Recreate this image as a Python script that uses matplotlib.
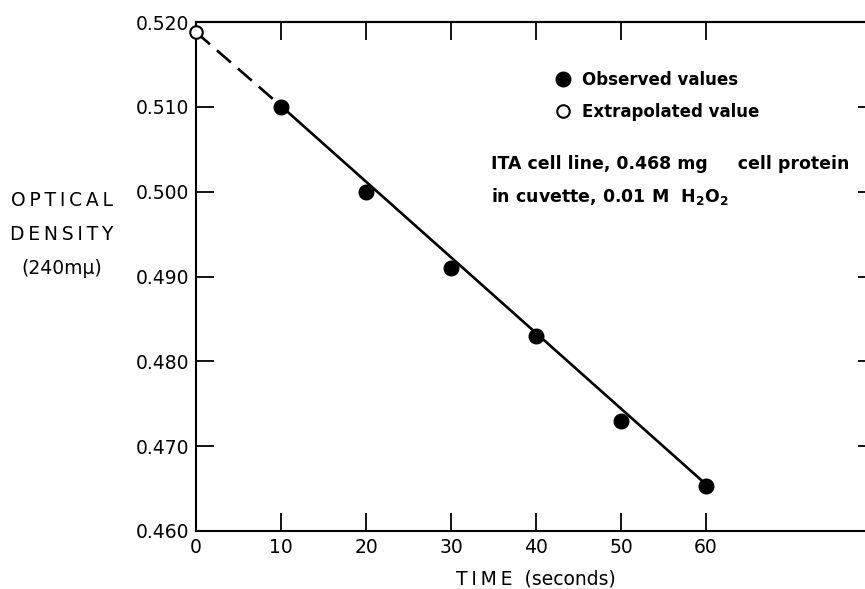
import matplotlib
matplotlib.use("Agg")
from matplotlib import pyplot as plt

# valores
tempo_obs = [10, 20, 30, 40, 50, 60]
densidade_obs = [0.510, 0.500, 0.491, 0.483, 0.473, 0.4653]
tempo_extrap = [0]
densidade_extrap = [0.5188]

# reta ajustada e trecho extrapolado
reta_x = [10, 60]
reta_y = [0.5101, 0.4655]
extrap_x = [0, 10]
extrap_y = [0.5188, 0.5101]

xticks = [0, 10, 20, 30, 40, 50, 60]
yticks = [0.460, 0.470, 0.480, 0.490, 0.500, 0.510, 0.520]
ytick_labels = ['0.460', '0.470', '0.480', '0.490', '0.500', '0.510', '0.520']

plt.rcParams['font.family'] = ['DejaVu Sans']

W, H = 865, 589
fig = plt.figure(figsize=(W / 100, H / 100), dpi=100)
ax = fig.add_axes([196 / W, 1 - 531 / H, (876 - 196) / W, (531 - 22) / H])

ax.plot(reta_x, reta_y, color='black', lw=1.9, zorder=2)
ax.plot(extrap_x, extrap_y, color='black', lw=1.9, dashes=(7, 3.5), zorder=2)
ax.plot(tempo_obs, densidade_obs, 'o', color='black', ms=10.5, zorder=3,
        label='Observed values')
ax.plot(tempo_extrap, densidade_extrap, 'o', mfc='white', mec='black', mew=1.5,
        ms=9, zorder=4, clip_on=False, label='Extrapolated value')

ax.set_xlim(0, 80)
ax.set_ylim(0.460, 0.520)

for s in ['left', 'bottom', 'top']:
    ax.spines[s].set_linewidth(1.5)
ax.spines['right'].set_visible(False)

ax.set_xticks(xticks)
ax.set_xticklabels([str(t) for t in xticks])
ax.set_yticks(yticks)
ax.set_yticklabels(ytick_labels)
ax.tick_params(direction='in', length=13, width=1.3, labelsize=13.5, pad=5)

# ticks de cima e da direita
top = ax.secondary_xaxis('top')
top.set_xticks(xticks[1:])
top.tick_params(direction='in', length=13, width=1.3, labeltop=False)
top.spines['top'].set_linewidth(1.5)
right = ax.secondary_yaxis('right')
right.set_yticks(yticks[1:-1])
right.tick_params(direction='in', length=13, width=1.3, labelright=False)

ax.set_xlabel('T\u2009I\u2009M\u2009E  (seconds)', fontsize=13.5, labelpad=9)
fig.text(62 / W, 1 - 235 / H, 'O\u2009P\u2009T\u2009I\u2009C\u2009A\u2009L\nD\u2009E\u2009N\u2009S\u2009I\u2009T\u2009Y\n(240m\u03bc)',
         ha='center', va='center', multialignment='center', fontsize=13.5,
         linespacing=2.0)

leg = ax.legend(loc='upper left', bbox_to_anchor=(555 / W, 1 - 71 / H),
                bbox_transform=fig.transFigure, frameon=False, borderpad=0,
                borderaxespad=0, handlelength=1.0, handletextpad=0.6,
                labelspacing=0.85, prop={'weight': 'bold', 'size': 12})

fig.text(491 / W, 1 - 164 / H, 'ITA cell line, 0.468 mg     cell protein',
         fontsize=12.5, fontweight='bold', va='center')
fig.text(491 / W, 1 - 197 / H, r'in cuvette, 0.01 M  H$_\mathbf{2}$O$_\mathbf{2}$',
         fontsize=12.5, fontweight='bold', va='center')

fig.savefig('out.png', dpi=100)
